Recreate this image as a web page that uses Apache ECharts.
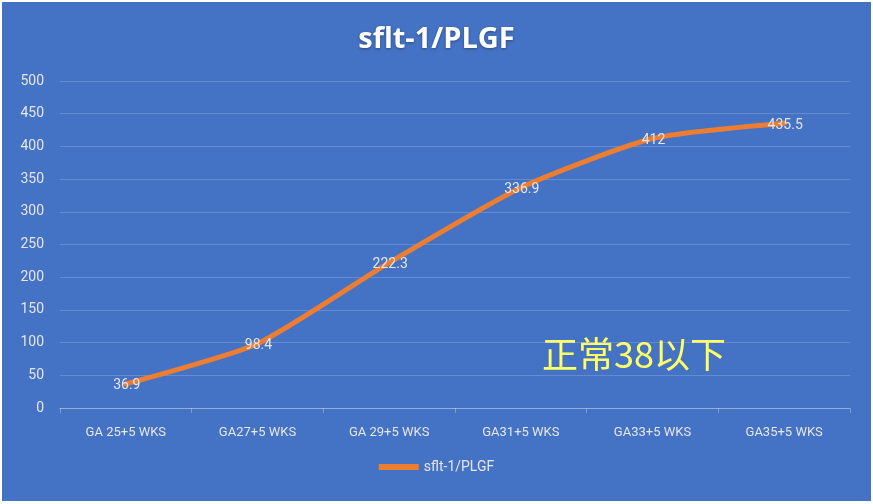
<!DOCTYPE html>
<html>
<head>
<meta charset="utf-8">
<script src="https://cdn.jsdelivr.net/npm/echarts@6/dist/echarts.min.js"></script>
<style>
  html, body { margin: 0; padding: 0; background: #ffffff; }
  #chart { position: absolute; left: 2px; top: 2px; width: 869px; height: 499px; }
</style>
</head>
<body>
<div id="chart"></div>
<script>
const categories = ['GA 25+5 WKS', 'GA27+5 WKS', 'GA 29+5 WKS', 'GA31+5 WKS', 'GA33+5 WKS', 'GA35+5 WKS'];
const values = [36.9, 98.4, 222.3, 336.9, 412, 435.5];
const seriesName = 'sflt-1/PLGF';
const note = '正常38以下';

const chart = echarts.init(document.getElementById('chart'), null, { renderer: 'canvas' });
chart.setOption({
  backgroundColor: '#4472C4',
  animation: false,
  title: {
    text: seriesName,
    left: 'center',
    top: 18,
    textStyle: {
      color: '#ffffff',
      fontSize: 29,
      fontWeight: 'bold',
      fontFamily: 'Open Sans',
      textShadowColor: 'rgba(0,0,0,0.35)',
      textShadowBlur: 3,
      textShadowOffsetY: 1
    }
  },
  legend: {
    bottom: 22,
    left: 'center',
    itemWidth: 40,
    itemHeight: 6,
    itemGap: 4,
    icon: 'rect',
    data: [seriesName],
    textStyle: { color: '#e6e6e6', fontSize: 14, fontFamily: 'Liberation Sans Narrow, Roboto' }
  },
  grid: { left: 58, right: 21, top: 79, bottom: 93 },
  xAxis: {
    type: 'category',
    data: categories,
    boundaryGap: true,
    axisLine: { lineStyle: { color: 'rgba(255,255,255,0.3)' } },
    axisTick: { show: true, length: 5, lineStyle: { color: 'rgba(255,255,255,0.3)' } },
    axisLabel: { color: '#e6e6e6', fontSize: 13, margin: 18, fontFamily: 'Liberation Sans Narrow, Roboto' }
  },
  yAxis: {
    type: 'value',
    min: 0,
    max: 500,
    interval: 50,
    axisLine: { show: false },
    axisTick: { show: false },
    axisLabel: { color: '#e6e6e6', fontSize: 14, margin: 16, fontFamily: 'Liberation Sans Narrow, Roboto' },
    splitLine: { lineStyle: { color: 'rgba(255,255,255,0.18)' } }
  },
  series: [{
    name: seriesName,
    type: 'line',
    data: values,
    smooth: 0.2,
    symbol: 'circle',
    symbolSize: 0,
    showSymbol: true,
    lineStyle: { color: '#ED7D31', width: 5, cap: 'round' },
    itemStyle: { color: '#ED7D31' },
    label: {
      show: true,
      position: 'inside',
      offset: [1, 2],
      color: '#e6e6e6',
      fontSize: 14,
      fontFamily: 'Liberation Sans Narrow, Roboto'
    }
  }],
  graphic: [{
    type: 'text',
    left: 540,
    top: 334,
    style: {
      text: note,
      fill: '#FFFF66',
      fontSize: 36,
      fontFamily: 'Noto Sans CJK SC'
    }
  }]
});
</script>
</body>
</html>
